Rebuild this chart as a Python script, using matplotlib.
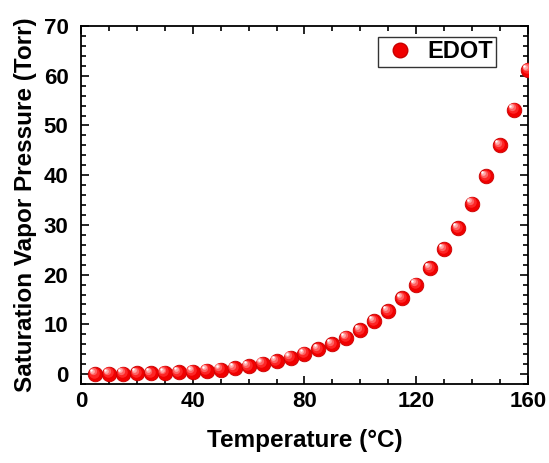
import matplotlib
matplotlib.use('Agg')
import matplotlib.pyplot as plt
import matplotlib.transforms as mtransforms
from matplotlib.ticker import MultipleLocator
from matplotlib.lines import Line2D

plt.rcParams['font.family'] = ['Liberation Sans', 'DejaVu Sans']
plt.rcParams['font.weight'] = 'bold'

temp = [5, 10, 15, 20, 25, 30, 35, 40, 45, 50, 55, 60, 65, 70, 75, 80,
        85, 90, 95, 100, 105, 110, 115, 120, 125, 130, 135, 140, 145, 150, 155, 160]
pressure = [0.05, 0.07, 0.1, 0.14, 0.2, 0.28, 0.38, 0.5, 0.7, 0.9, 1.2, 1.6, 2.1, 2.6, 3.3, 4.1,
            5.0, 6.0, 7.3, 8.8, 10.6, 12.7, 15.2, 18.0, 21.3, 25.1, 29.4, 34.3, 39.8, 46.1, 53.2, 61.2]
series_name = 'EDOT'

fig = plt.figure(figsize=(5.49, 4.63), dpi=100)
ax = fig.add_axes([0.1475, 0.1706, 0.8142, 0.7732])

# shaded "ball" markers: base disc plus lighter layers shifted up-left
def balls(ax, x, y, ms=10.5, zorder=3):
    ax.plot(x, y, 'o', ms=ms, mfc='#f00000', mec='#c80000', mew=0.6, zorder=zorder)
    layers = [(0.72, '#ff2a2a', 0.9), (0.5, '#ff6a6a', 0.9), (0.32, '#ffb0b0', 0.95), (0.16, '#ffffff', 1.0)]
    for frac, col, a in layers:
        shift = (1 - frac) * ms * 0.32
        tr = mtransforms.offset_copy(ax.transData, fig=fig, x=-shift, y=shift, units='points')
        ax.plot(x, y, 'o', ms=ms * frac, mfc=col, mec='none', alpha=a, transform=tr, zorder=zorder)

balls(ax, temp, pressure)

ax.set_xlim(0, 160)
ax.set_ylim(-2, 70)
ax.xaxis.set_major_locator(MultipleLocator(40))
ax.xaxis.set_minor_locator(MultipleLocator(10))
ax.yaxis.set_major_locator(MultipleLocator(10))
ax.yaxis.set_minor_locator(MultipleLocator(2))
ax.tick_params(which='both', direction='in', top=True, right=True, width=1.2,
               labelsize=16)
ax.tick_params(axis='y', pad=9)
ax.tick_params(axis='x', pad=5)
ax.tick_params(which='major', length=6)
ax.tick_params(which='minor', length=3.5)
for s in ax.spines.values():
    s.set_linewidth(1.3)
for lbl in ax.get_xticklabels() + ax.get_yticklabels():
    lbl.set_fontweight('bold')

ax.set_xlabel('Temperature (°C)', fontsize=17.5, fontweight='bold', labelpad=12)
ax.set_ylabel('Saturation Vapor Pressure (Torr)', fontsize=17.5, fontweight='bold', labelpad=5)

# legend entry
h = Line2D([], [], marker='o', ls='none', ms=10.5, mfc='#f00000', mec='#c80000')
leg = ax.legend([h], [series_name], loc='upper right', bbox_to_anchor=(0.929, 0.97),
                fontsize=17, frameon=True, fancybox=False, edgecolor='black',
                handletextpad=0.36, borderpad=0.15, handlelength=1.57, borderaxespad=0)
leg.get_frame().set_linewidth(1.0)
for t in leg.get_texts():
    t.set_fontweight('bold')

fig.savefig('out.png', dpi=100)
